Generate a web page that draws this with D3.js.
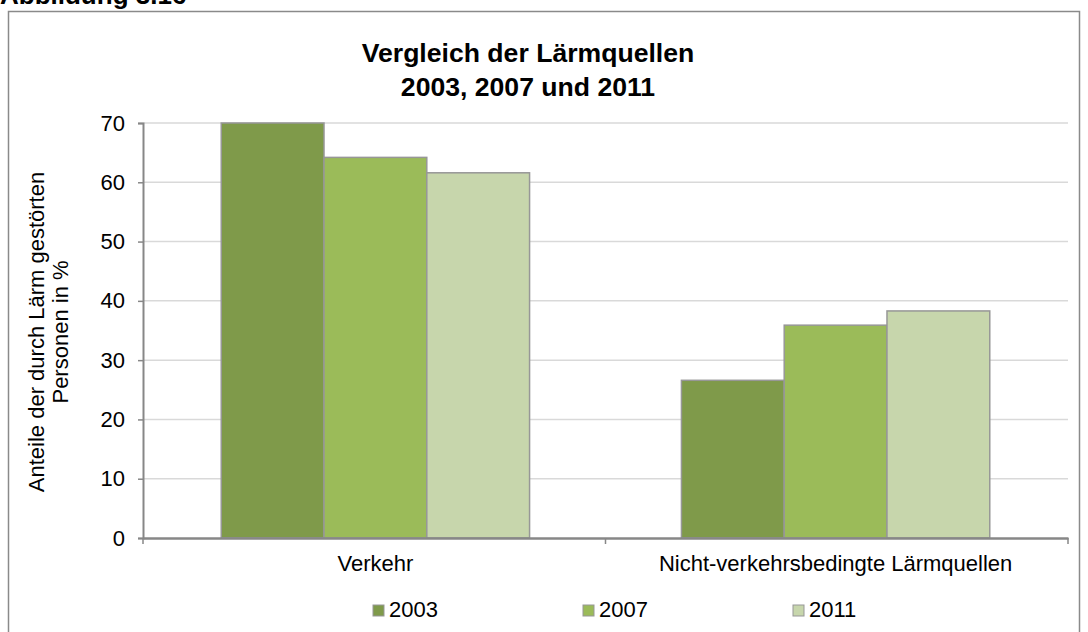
<!DOCTYPE html>
<html>
<head>
<meta charset="utf-8">
<script src="https://cdn.jsdelivr.net/npm/d3@7"></script>
<style>
  body { margin: 0; background: #fff; }
  text { font-family: Arial, "Liberation Sans", sans-serif; fill: #000; }
</style>
</head>
<body>
<div id="chart"></div>
<script>
// chart data
var categories = ["Verkehr", "Nicht-verkehrsbedingte Lärmquellen"];
var years = ["2003", "2007", "2011"];
var values2003 = [70, 26.6];
var values2007 = [64.2, 35.9];
var values2011 = [61.6, 38.3];
var yTicks = [0, 10, 20, 30, 40, 50, 60, 70];
var colors = ["#7f9a4a", "#9bbb59", "#c7d6ac"];

var series = [values2003, values2007, values2011];

var W = 1088, H = 632;
var margin = {top: 123, right: 20, bottom: 94, left: 143};
var width = 1068 - margin.left,
    height = 538 - margin.top;

var svg = d3.select("#chart").append("svg")
    .attr("width", W)
    .attr("height", H);

// figure label, cut at top like the original
svg.append("text")
    .attr("x", 0)
    .attr("y", 4)
    .style("font-size", "26px")
    .style("font-weight", "bold")
    .text("Abbildung 3.16");

// outer frame
svg.append("rect")
    .attr("x", 8.5)
    .attr("y", 11.5)
    .attr("width", 1071)
    .attr("height", 640)
    .attr("fill", "none")
    .attr("stroke", "#8a8a8a")
    .attr("stroke-width", 1.5);

// title
var title = svg.append("text")
    .attr("text-anchor", "middle")
    .style("font-size", "26.6px")
    .style("font-weight", "bold");
title.append("tspan").attr("x", 528).attr("y", 62).text("Vergleich der Lärmquellen");
title.append("tspan").attr("x", 528).attr("y", 96).text("2003, 2007 und 2011");

var g = svg.append("g")
    .attr("transform", "translate(" + margin.left + "," + margin.top + ")");

var y = d3.scaleLinear()
    .domain([0, 70])
    .range([height, 0]);

var x0 = d3.scaleBand()
    .domain(categories)
    .range([0, width])
    .paddingInner(0.33)
    .paddingOuter(0.17);

var x1 = d3.scaleBand()
    .domain(years)
    .range([0, x0.bandwidth()]);

// gridlines
g.selectAll(".grid")
    .data(yTicks.filter(function(d) { return d > 0; }))
  .enter().append("line")
    .attr("class", "grid")
    .attr("x1", 0)
    .attr("x2", width)
    .attr("y1", function(d) { return y(d); })
    .attr("y2", function(d) { return y(d); })
    .attr("stroke", "#d9d9d9")
    .attr("stroke-width", 1.5);

// bars
var groups = g.selectAll(".cat")
    .data(categories)
  .enter().append("g")
    .attr("class", "cat")
    .attr("transform", function(d) { return "translate(" + x0(d) + ",0)"; });

groups.selectAll("rect")
    .data(function(d, i) {
      return years.map(function(yr, j) { return {year: yr, value: series[j][i], color: colors[j]}; });
    })
  .enter().append("rect")
    .attr("x", function(d) { return x1(d.year); })
    .attr("y", function(d) { return y(d.value); })
    .attr("width", x1.bandwidth())
    .attr("height", function(d) { return height - y(d.value); })
    .attr("fill", function(d) { return d.color; })
    .attr("stroke", "#979797")
    .attr("stroke-width", 1.5);

// y axis
var yAxis = g.append("g")
    .call(d3.axisLeft(y).tickValues(yTicks).tickSize(5).tickPadding(13));
yAxis.select(".domain").attr("stroke", "#878787").attr("stroke-width", 2);
yAxis.selectAll(".tick line").attr("stroke", "#878787").attr("stroke-width", 1.5);
yAxis.selectAll(".tick text")
    .style("font-size", "22px")
    .style("font-family", "Arial, 'Liberation Sans', sans-serif");

// x axis with ticks at category boundaries
var xAxis = g.append("g")
    .attr("transform", "translate(0," + height + ")")
    .call(d3.axisBottom(x0).tickSize(0).tickPadding(17));
xAxis.select(".domain").attr("stroke", "#878787").attr("stroke-width", 2.5);
xAxis.selectAll(".tick text")
    .style("font-size", "22px")
    .style("font-family", "Arial, 'Liberation Sans', sans-serif");

var bounds = d3.range(categories.length + 1).map(function(i) { return i * width / categories.length; });
xAxis.selectAll(".bound")
    .data(bounds)
  .enter().append("line")
    .attr("class", "bound")
    .attr("x1", function(d) { return d; })
    .attr("x2", function(d) { return d; })
    .attr("y1", 0)
    .attr("y2", 6)
    .attr("stroke", "#878787")
    .attr("stroke-width", 1.5);

// y axis title
var yTitle = svg.append("text")
    .attr("transform", "translate(0,332) rotate(-90)")
    .attr("text-anchor", "middle")
    .style("font-size", "22px");
yTitle.append("tspan").attr("x", 0).attr("y", 44).text("Anteile der durch Lärm gestörten");
yTitle.append("tspan").attr("x", 0).attr("y", 68).text("Personen in %");

// legend
var legend = svg.selectAll(".legend")
    .data(years)
  .enter().append("g")
    .attr("class", "legend")
    .attr("transform", function(d, i) { return "translate(" + (373 + i * 210) + ",605)"; });

legend.append("rect")
    .attr("width", 11)
    .attr("height", 11)
    .attr("fill", function(d, i) { return colors[i]; })
    .attr("stroke", "#979797")
    .attr("stroke-width", 1);

legend.append("text")
    .attr("x", 16)
    .attr("y", 12)
    .style("font-size", "22px")
    .text(function(d) { return d; });
</script>
</body>
</html>
